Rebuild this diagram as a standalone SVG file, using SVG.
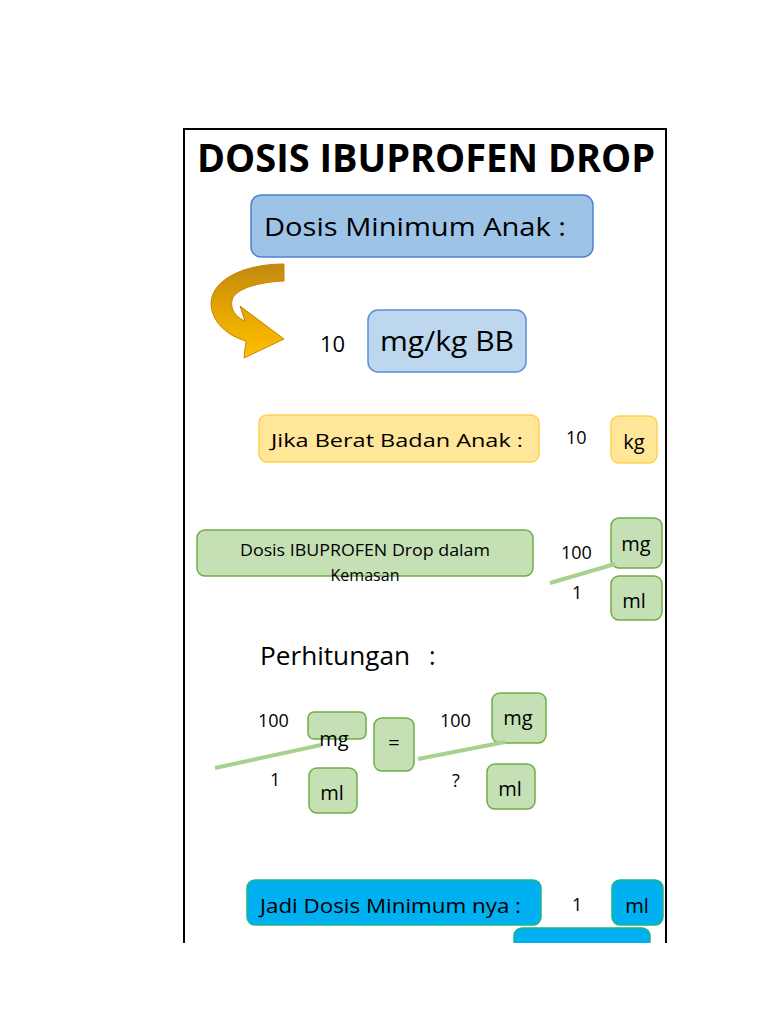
<svg xmlns="http://www.w3.org/2000/svg" width="768" height="1024" viewBox="0 0 768 1024">
<defs>
<linearGradient id="arrowGrad" x1="0" y1="0" x2="0" y2="1">
<stop offset="0" stop-color="#c08a10"/>
<stop offset="0.45" stop-color="#e2a200"/>
<stop offset="1" stop-color="#ffc000"/>
</linearGradient>
<clipPath id="pageClip"><rect x="0" y="0" width="768" height="943"/></clipPath>
</defs>
<style>
.comic{font-family:"Comic Sans MS","Open Sans","DejaVu Sans",sans-serif;fill:#000}
.cal{font-family:"Open Sans","Liberation Sans",sans-serif;fill:#000}
.blue{fill:#9dc3e6;stroke:#4f81d0;stroke-width:1.5}
.lblue{fill:#bdd7ee;stroke:#5b8fd4;stroke-width:1.5}
.yel{fill:#ffe699;stroke:#ffd24d;stroke-width:1.5}
.grn{fill:#c5e0b4;stroke:#70ad47;stroke-width:1.5}
.cyan{fill:#00b0f0;stroke:#1fb57f;stroke-width:1.5}
.slash{stroke:#a9d18e;stroke-width:4;fill:none}
</style>
<rect width="768" height="1024" fill="#fff"/>
<path d="M184,943 V129 H666 V943" fill="none" stroke="#000" stroke-width="2"/>
<g id="title"><text x="426" y="172" text-anchor="middle" class="cal" font-size="40" font-weight="700" textLength="458" lengthAdjust="spacingAndGlyphs">DOSIS IBUPROFEN DROP</text></g>
<g id="node-dosis-min"><rect x="251" y="195" width="342" height="62" rx="10" class="blue"/><text x="264" y="236" class="comic" font-size="26" textLength="302" lengthAdjust="spacingAndGlyphs">Dosis Minimum Anak :</text></g>
<g id="curved-arrow"><path d="M284,264 L284,281 C258,282 235,289 232,300 C230,310 236,317 245,321 L240,306 L284,339 L244,358 L246,341 C225,335 211,320 211,303 C212,279 245,264 284,264 Z" fill="url(#arrowGrad)" stroke="#c98500" stroke-width="1"/></g>
<g id="node-mgkg"><text x="320" y="352" class="cal" font-size="22">10</text><rect x="368" y="310" width="158" height="62" rx="10" class="lblue"/><text x="380" y="351" class="cal" font-size="27" textLength="134" lengthAdjust="spacingAndGlyphs">mg/kg BB</text></g>
<g id="node-berat"><rect x="259" y="415" width="280" height="47" rx="8" class="yel"/><text x="271" y="447" class="comic" font-size="19" textLength="252" lengthAdjust="spacingAndGlyphs">Jika Berat Badan Anak :</text></g>
<g id="node-kg"><text x="566" y="444" class="cal" font-size="18">10</text><rect x="611" y="416" width="46" height="47" rx="8" class="yel"/><text x="634" y="449" text-anchor="middle" class="comic" font-size="20">kg</text></g>
<g id="node-kemasan"><rect x="197" y="530" width="336" height="46" rx="8" class="grn"/><text x="365" y="556" text-anchor="middle" class="comic" font-size="16" textLength="250" lengthAdjust="spacingAndGlyphs">Dosis IBUPROFEN Drop dalam</text><text x="365" y="581" text-anchor="middle" class="comic" font-size="16" textLength="69" lengthAdjust="spacingAndGlyphs">Kemasan</text></g>
<g id="node-kemasan-ratio"><text x="561" y="559" class="cal" font-size="18">100</text><text x="572" y="599" class="cal" font-size="18">1</text><rect x="611" y="518" width="51" height="50" rx="8" class="grn"/><text x="636" y="551" text-anchor="middle" class="comic" font-size="20">mg</text><rect x="611" y="576" width="51" height="44" rx="8" class="grn"/><text x="634" y="608" text-anchor="middle" class="comic" font-size="20">ml</text></g>
<g id="label-perhitungan"><text x="260" y="665" class="cal" font-size="25" textLength="150" lengthAdjust="spacingAndGlyphs">Perhitungan</text><text x="429" y="665" class="cal" font-size="25">:</text></g>
<g id="node-calc-left"><text x="258" y="727" class="cal" font-size="18">100</text><rect x="308" y="712" width="58" height="27" rx="6" class="grn"/><text x="334" y="746" text-anchor="middle" class="comic" font-size="20">mg</text><text x="270" y="786" class="cal" font-size="18">1</text><rect x="309" y="768" width="48" height="45" rx="8" class="grn"/><text x="332" y="800" text-anchor="middle" class="comic" font-size="20">ml</text></g>
<g id="node-equals"><rect x="374" y="718" width="40" height="53" rx="8" class="grn"/><text x="394" y="750" text-anchor="middle" class="cal" font-size="20">=</text></g>
<g id="node-calc-right"><text x="440" y="727" class="cal" font-size="18">100</text><rect x="492" y="693" width="54" height="50" rx="8" class="grn"/><text x="518" y="725" text-anchor="middle" class="comic" font-size="20">mg</text><text x="452" y="787" class="cal" font-size="18">?</text><rect x="487" y="764" width="48" height="45" rx="8" class="grn"/><text x="510" y="796" text-anchor="middle" class="comic" font-size="20">ml</text></g>
<g id="node-jadi"><rect x="247" y="880" width="294" height="45" rx="8" class="cyan"/><text x="260" y="913" class="comic" font-size="20" textLength="261" lengthAdjust="spacingAndGlyphs">Jadi Dosis Minimum nya :</text></g>
<g id="node-jadi-ml"><text x="572" y="911" class="cal" font-size="18">1</text><rect x="612" y="880" width="51" height="45" rx="8" class="cyan"/><text x="637" y="913" text-anchor="middle" class="comic" font-size="20">ml</text></g>
<g id="node-bottom" clip-path="url(#pageClip)"><rect x="514" y="928" width="136" height="45" rx="8" class="cyan"/></g>
<g id="connectors"><line x1="550" y1="583" x2="615" y2="564" class="slash"/><line x1="215" y1="768" x2="321" y2="745" class="slash"/><line x1="418" y1="759" x2="505" y2="742" class="slash"/></g>
</svg>
